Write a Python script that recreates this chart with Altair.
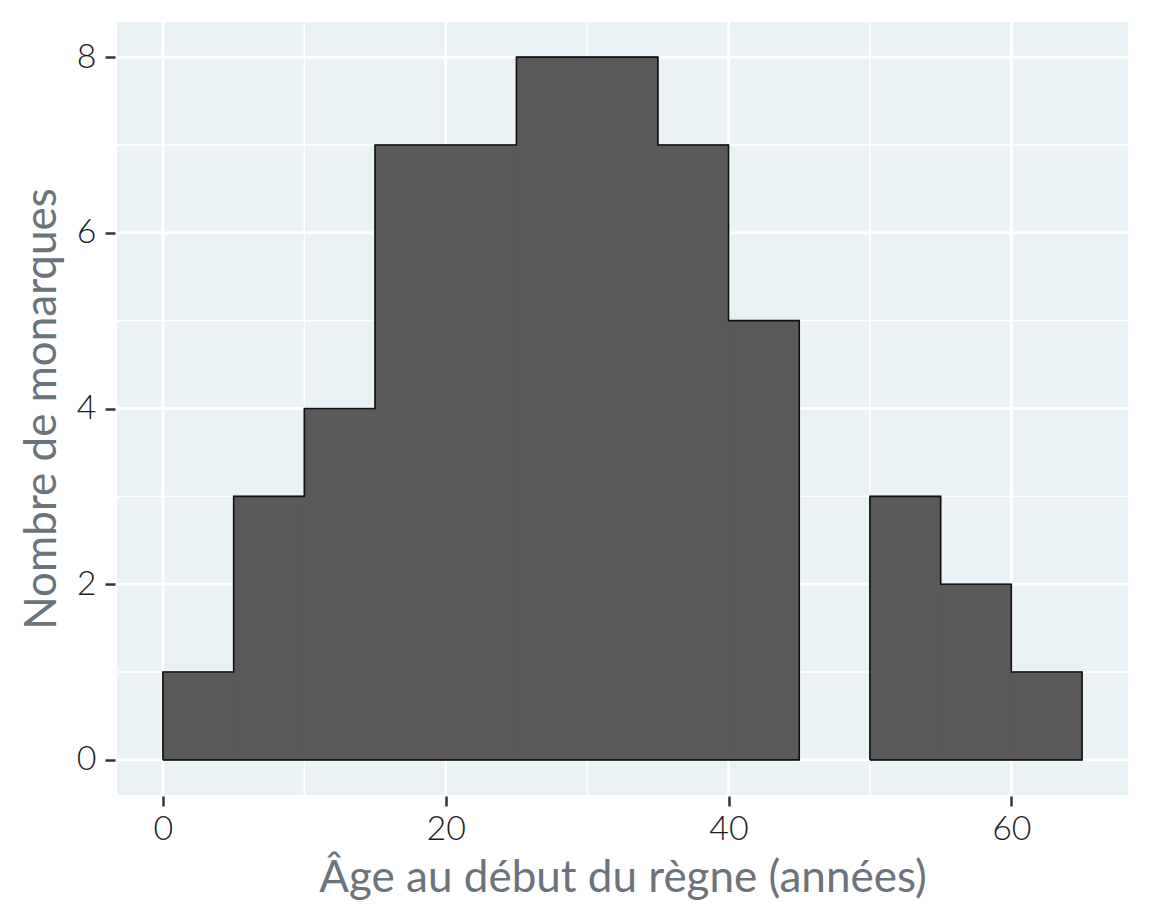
import altair as alt
import pandas as pd

bin_starts = [0, 5, 10, 15, 20, 25, 30, 35, 40, 45, 50, 55, 60]
counts = [1, 3, 4, 7, 7, 8, 8, 7, 5, 0, 3, 2, 1]
bin_width = 5
x_major = [0, 20, 40, 60]
x_minor = [10, 30, 50]
y_major = [0, 2, 4, 6, 8]
y_minor = [1, 3, 5, 7]

bars = pd.DataFrame({
    "start": bin_starts,
    "end": [s + bin_width for s in bin_starts],
    "count": counts,
})
bars = bars[bars["count"] > 0]

# Outline of each contiguous run of non-empty bins
rows = []
group = 0
run = []
def flush(run):
    pts = []
    if not run:
        return pts
    pts.append((run[0][0], 0))
    for s, e, c in run:
        pts.append((s, c))
        pts.append((e, c))
    pts.append((run[-1][1], 0))
    pts.append((run[0][0], 0))
    return pts

for s, c in zip(bin_starts, counts):
    if c > 0:
        run.append((s, s + bin_width, c))
    else:
        for i, (px, py) in enumerate(flush(run)):
            rows.append({"x": px, "y": py, "g": group, "o": i})
        group += 1
        run = []
for i, (px, py) in enumerate(flush(run)):
    rows.append({"x": px, "y": py, "g": group, "o": i})
outline = pd.DataFrame(rows)

xdom = [-3.25, 68.25]
ydom = [-0.4, 8.4]
xs = alt.Scale(domain=xdom, nice=False, zero=False)
ys = alt.Scale(domain=ydom, nice=False, zero=False)

font = "Lato"
common = dict(grid=False, domain=False, tickColor="#333333", tickWidth=2.5, tickSize=10,
              labelFontSize=34, labelColor="#1e1e1e", labelFont=font, labelFontWeight=300,
              titleFontSize=44, titleColor="#6b737b", titleFont=font, titleFontWeight="normal")
xaxis = alt.Axis(values=x_major, title="Âge au début du règne (années)",
                 labelPadding=6, titlePadding=10, offset=1, **common)
yaxis = alt.Axis(values=y_major, title="Nombre de monarques",
                 labelPadding=9, titlePadding=12, offset=2, **common)

bg = alt.Chart(pd.DataFrame({"x0": [xdom[0]], "x1": [xdom[1]], "y0": [ydom[0]], "y1": [ydom[1]]})).mark_rect(
    color="#eaf2f5").encode(
    x=alt.X("x0:Q", scale=xs, axis=xaxis), x2="x1:Q",
    y=alt.Y("y0:Q", scale=ys, axis=yaxis), y2="y1:Q")

gx_minor = alt.Chart(pd.DataFrame({"v": x_minor})).mark_rule(color="white", strokeWidth=1.4).encode(
    x=alt.X("v:Q", scale=xs, axis=xaxis))
gx_major = alt.Chart(pd.DataFrame({"v": x_major})).mark_rule(color="white", strokeWidth=2.8).encode(
    x=alt.X("v:Q", scale=xs, axis=xaxis))
gy_minor = alt.Chart(pd.DataFrame({"v": y_minor})).mark_rule(color="white", strokeWidth=1.4).encode(
    y=alt.Y("v:Q", scale=ys, axis=yaxis))
gy_major = alt.Chart(pd.DataFrame({"v": y_major})).mark_rule(color="white", strokeWidth=2.8).encode(
    y=alt.Y("v:Q", scale=ys, axis=yaxis))

bar_layer = alt.Chart(bars).mark_rect(color="#595959", stroke="#595959", strokeWidth=1).encode(
    x=alt.X("start:Q", scale=xs, axis=xaxis),
    x2="end:Q",
    y=alt.Y("count:Q", scale=ys, axis=yaxis),
    y2=alt.datum(0),
)

outline_layer = alt.Chart(outline).mark_line(color="#111111", strokeWidth=1.6).encode(
    x=alt.X("x:Q", scale=xs, axis=xaxis),
    y=alt.Y("y:Q", scale=ys, axis=yaxis),
    detail="g:N",
    order="o:Q",
)

chart = alt.layer(bg, gx_minor, gx_major, gy_minor, gy_major, bar_layer, outline_layer).properties(
    width=1011, height=773,
    autosize=alt.AutoSizeParams(type="none"),
    padding={"left": 109, "top": 14, "right": 16, "bottom": 110},
    background="white",
).configure_view(stroke=None)

chart.save("out.html", embed_options={"renderer": "svg", "actions": False})
